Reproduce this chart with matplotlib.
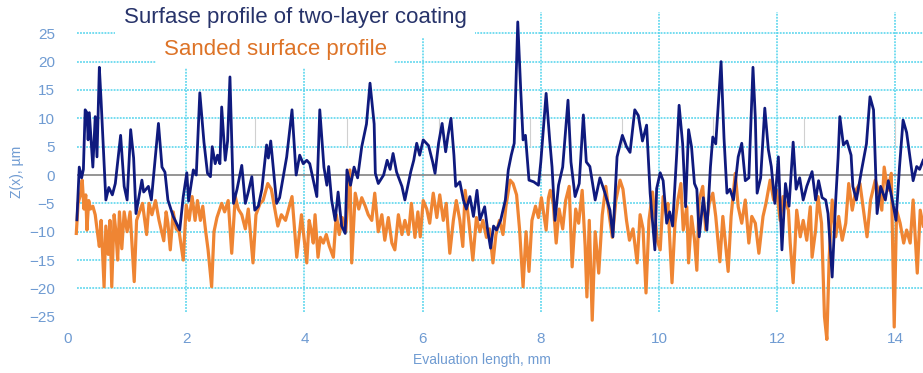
import matplotlib.pyplot as plt

# ===== DATA =====
coat_x = [0.15, 0.19, 0.23, 0.26, 0.29, 0.32, 0.34, 0.36, 0.42, 0.46, 0.49, 0.53, 0.56, 0.64, 0.69,
          0.75, 0.80, 0.89, 0.95, 1.00, 1.06, 1.11, 1.15, 1.25, 1.28, 1.36, 1.41, 1.53, 1.59, 1.64,
          1.69, 1.78, 1.89, 1.95, 2.01, 2.04, 2.12, 2.17, 2.23, 2.30, 2.36, 2.41, 2.44, 2.49, 2.53,
          2.57, 2.60, 2.66, 2.70, 2.74, 2.80, 2.86, 2.94, 3.00, 3.05, 3.11, 3.16, 3.22, 3.28, 3.36,
          3.39, 3.43, 3.53, 3.58, 3.70, 3.79, 3.86, 3.92, 3.98, 4.04, 4.09, 4.21, 4.26, 4.33, 4.38,
          4.41, 4.46, 4.52, 4.57, 4.63, 4.69, 4.72, 4.78, 4.84, 4.90, 4.97, 5.05, 5.11, 5.18, 5.20,
          5.25, 5.34, 5.40, 5.45, 5.50, 5.56, 5.65, 5.70, 5.80, 5.85, 5.90, 5.95, 6.01, 6.10, 6.17,
          6.21, 6.27, 6.33, 6.39, 6.43, 6.48, 6.53, 6.56, 6.63, 6.69, 6.74, 6.80, 6.86, 6.92, 6.97,
          7.05, 7.10, 7.15, 7.20, 7.25, 7.32, 7.40, 7.45, 7.50, 7.55, 7.61, 7.66, 7.70, 7.74, 7.80,
          7.88, 7.96, 8.00, 8.09, 8.15, 8.19, 8.24, 8.30, 8.37, 8.46, 8.51, 8.58, 8.65, 8.72, 8.77,
          8.83, 8.92, 9.00, 9.08, 9.17, 9.22, 9.29, 9.38, 9.45, 9.51, 9.59, 9.65, 9.72, 9.79, 9.85,
          9.93, 9.96, 10.02, 10.07, 10.13, 10.18, 10.23, 10.30, 10.34, 10.40, 10.45, 10.50, 10.55, 10.60, 10.64,
          10.68, 10.75, 10.81, 10.87, 10.91, 10.96, 11.05, 11.10, 11.15, 11.20, 11.26, 11.34, 11.40, 11.46, 11.52,
          11.59, 11.63, 11.66, 11.72, 11.79, 11.85, 11.90, 11.96, 12.02, 12.08, 12.14, 12.20, 12.27, 12.32, 12.38,
          12.44, 12.50, 12.59, 12.65, 12.70, 12.76, 12.82, 12.86, 12.93, 12.99, 13.03, 13.06, 13.12, 13.18, 13.25,
          13.28, 13.34, 13.43, 13.51, 13.57, 13.63, 13.69, 13.75, 13.83, 13.88, 13.94, 14.01, 14.07, 14.13, 14.19,
          14.30, 14.36, 14.41, 14.47]
coat_z = [-7.9, 1.4, -0.5, 1.0, 11.5, 11.0, 6.2, 11.0, 1.4, 10.3, 3.2, 19.0, 13.0, -4.4, -2.2,
          -3.5, -1.5, 7.0, -2.0, -4.4, 8.0, 3.0, -6.8, -0.9, -3.0, -2.0, -4.4, 9.1, 1.4, 0.5,
          -4.4, -7.3, -9.7, -3.8, 0.4, -4.6, 0.9, 0.0, 14.5, 5.8, 0.3, -0.3, 5.0, 2.0, 3.5,
          2.0, 12.0, 2.6, 6.0, 17.3, -5.0, -2.5, 1.7, -5.0, -3.0, -0.3, -6.2, -5.5, -2.5, 5.3,
          3.0, 6.0, -5.0, -4.0, 3.2, 11.5, 0.0, 3.5, 2.0, 2.6, 2.0, -3.8, 11.5, 1.4, -1.8,
          1.5, -4.4, -8.0, -3.0, -9.0, -10.3, 0.9, -1.8, 1.4, -0.5, 5.0, 9.0, 16.2, 9.0, 0.3,
          -1.5, 0.0, 2.6, 1.0, 3.8, 0.5, -2.0, -4.4, 0.6, 2.6, 5.6, 3.5, 6.2, 5.2, 2.3,
          0.3, 5.6, 9.1, 4.1, 7.0, 10.0, 3.5, -2.0, -1.2, -4.4, -6.0, -3.8, -7.3, -2.7, -7.9,
          -5.6, -9.7, -12.9, -9.0, -9.7, -8.0, -4.4, 0.9, 3.5, 5.6, 27.0, 15.0, 6.2, 7.0, -0.9,
          -1.2, -1.8, 2.3, 14.4, 6.2, 1.4, -8.0, -1.8, 1.4, 13.2, 2.3, -3.8, -1.5, 10.6, 2.3,
          1.5, -4.4, -0.5, -3.0, -6.2, -10.9, 3.2, 7.0, 5.0, 4.0, 11.5, 10.5, 6.0, 8.8, -3.2,
          -13.2, -2.4, 0.4, -1.0, -8.5, -6.5, -9.0, 3.8, 12.3, 5.5, -5.6, 8.0, 5.0, -1.5, -2.5,
          -10.9, -4.0, -9.7, 1.4, 6.7, 5.5, 20.0, 6.5, -3.2, -2.5, -4.4, 3.2, 5.6, -1.0, -0.5,
          19.0, 10.0, -3.2, -0.5, 11.8, 4.5, 1.5, -5.0, 3.2, -13.2, -1.5, -5.5, 5.8, -2.5, -0.5,
          -4.4, -2.0, 0.6, -4.4, -1.0, -4.0, -4.4, -6.8, -18.0, -4.4, 3.0, 10.3, 5.3, 6.0, 3.5,
          -2.0, -4.4, 1.0, 5.5, 13.8, 11.5, -6.8, -2.0, -4.4, -1.0, -4.0, -8.0, 1.5, 9.7, 7.5,
          -1.0, 1.5, 1.0, 2.6]

sand_x = [0.14, 0.17, 0.21, 0.24, 0.27, 0.30, 0.32, 0.35, 0.38, 0.42, 0.46, 0.50, 0.53, 0.56, 0.61,
          0.64, 0.68, 0.71, 0.74, 0.78, 0.81, 0.84, 0.87, 0.91, 0.95, 1.00, 1.05, 1.12, 1.16, 1.21,
          1.26, 1.33, 1.37, 1.42, 1.48, 1.54, 1.62, 1.66, 1.69, 1.73, 1.78, 1.83, 1.88, 1.95, 2.00,
          2.05, 2.10, 2.15, 2.19, 2.24, 2.28, 2.33, 2.37, 2.43, 2.47, 2.52, 2.60, 2.65, 2.71, 2.77,
          2.83, 2.88, 2.94, 3.00, 3.05, 3.13, 3.18, 3.25, 3.30, 3.38, 3.44, 3.50, 3.55, 3.61, 3.68,
          3.79, 3.87, 3.95, 4.04, 4.08, 4.12, 4.15, 4.18, 4.23, 4.27, 4.32, 4.37, 4.42, 4.49, 4.54,
          4.59, 4.64, 4.70, 4.77, 4.80, 4.86, 4.92, 4.97, 5.03, 5.08, 5.14, 5.19, 5.25, 5.31, 5.36,
          5.42, 5.48, 5.53, 5.59, 5.65, 5.70, 5.76, 5.81, 5.87, 5.92, 5.96, 6.01, 6.07, 6.12, 6.18,
          6.24, 6.29, 6.35, 6.40, 6.46, 6.52, 6.57, 6.63, 6.68, 6.72, 6.78, 6.85, 6.91, 6.97, 7.02,
          7.08, 7.13, 7.19, 7.24, 7.30, 7.36, 7.41, 7.48, 7.53, 7.59, 7.64, 7.70, 7.75, 7.80, 7.85,
          7.91, 7.96, 8.01, 8.09, 8.13, 8.16, 8.21, 8.26, 8.31, 8.37, 8.42, 8.48, 8.53, 8.59, 8.64,
          8.70, 8.75, 8.78, 8.82, 8.87, 8.92, 8.98, 9.04, 9.10, 9.15, 9.21, 9.27, 9.34, 9.39, 9.45,
          9.50, 9.56, 9.63, 9.68, 9.73, 9.78, 9.83, 9.89, 9.97, 10.02, 10.07, 10.13, 10.15, 10.22, 10.27,
          10.32, 10.37, 10.41, 10.47, 10.50, 10.55, 10.60, 10.64, 10.68, 10.74, 10.79, 10.85, 10.91, 10.96, 11.03,
          11.08, 11.17, 11.22, 11.29, 11.34, 11.40, 11.46, 11.52, 11.57, 11.63, 11.69, 11.76, 11.81, 11.88, 11.94,
          11.99, 12.05, 12.10, 12.19, 12.22, 12.27, 12.33, 12.39, 12.44, 12.50, 12.56, 12.59, 12.65, 12.69, 12.75,
          12.80, 12.84, 12.88, 12.93, 12.99, 13.04, 13.10, 13.16, 13.21, 13.27, 13.33, 13.40, 13.46, 13.52, 13.58,
          13.66, 13.71, 13.77, 13.81, 13.87, 13.93, 13.98, 14.02, 14.08, 14.14, 14.19, 14.25, 14.30, 14.37, 14.42,
          14.47]
sand_z = [-10.3, -5.0, -3.5, -0.9, -6.0, -3.5, -9.7, -4.5, -6.0, -5.5, -7.0, -10.3, -12.6, -8.0, -19.7,
          -9.0, -14.0, -8.0, -19.7, -7.0, -10.0, -15.0, -6.5, -13.0, -6.5, -10.0, -6.5, -18.8, -8.0, -6.5,
          -5.0, -10.5, -5.0, -7.0, -4.5, -8.0, -11.6, -6.5, -8.5, -13.2, -6.5, -9.5, -10.0, -15.0, -5.3,
          -8.0, -3.8, -8.0, -4.5, -8.0, -5.5, -10.0, -13.2, -19.7, -10.0, -7.5, -5.0, -6.5, -4.5, -13.8,
          -3.8, -6.0, -7.0, -9.5, -6.0, -15.5, -7.0, -5.0, -4.5, -1.5, -2.5, -6.0, -9.0, -7.0, -8.0,
          -3.8, -14.5, -7.0, -15.5, -8.0, -10.0, -12.0, -7.0, -14.5, -11.0, -12.0, -10.5, -12.5, -14.5, -7.0,
          -10.5, -7.5, -10.0, 0.9, -15.5, -3.2, -6.0, -4.0, -5.5, -7.0, -8.0, -3.2, -10.0, -7.0, -11.5,
          -7.5, -12.0, -13.2, -7.0, -10.5, -8.0, -10.5, -5.0, -11.0, -6.5, -10.9, -4.5, -6.0, -8.5, -3.2,
          -7.5, -3.5, -8.0, -5.0, -13.8, -8.0, -4.5, -8.0, -12.6, -2.7, -8.0, -15.0, -7.5, -10.0, -8.0,
          -11.0, -9.5, -15.5, -10.5, -8.0, -10.5, -5.5, -0.9, -1.5, -3.5, -9.5, -19.7, -10.0, -17.0, -8.0,
          -5.5, -7.5, -4.0, -9.7, -4.0, -2.7, -5.0, -12.0, -6.0, -9.5, -4.5, -2.0, -16.2, -6.0, -8.5,
          -2.7, -12.5, -21.5, -8.0, -25.6, -10.0, -17.3, -7.0, -2.0, -6.5, -11.0, -4.5, -0.9, -2.5, -8.0,
          -11.5, -9.5, -15.5, -7.0, -9.5, -20.8, -8.0, -3.0, -11.5, -13.2, -3.8, -7.3, -5.0, -19.0, -8.5,
          -4.4, -1.5, -9.7, -5.6, -15.5, -7.3, -11.4, -16.8, -4.4, -2.0, -9.7, -5.0, -3.2, -7.3, -15.3,
          -7.3, -17.0, -7.3, 0.3, -5.6, -8.5, -4.4, -12.0, -7.3, -8.5, -13.8, -7.3, -5.0, -0.9, -4.4,
          -2.7, -8.0, -3.8, -6.2, -12.0, -19.0, -6.2, -10.9, -8.0, -11.5, -5.6, -14.5, -9.7, -3.8, -8.5,
          -25.0, -29.0, -14.5, -4.4, -10.9, -7.3, -11.5, -8.5, -1.5, -6.2, -2.7, -1.5, -6.2, -10.9, -4.4,
          -0.9, -2.7, -6.2, 1.4, -2.7, 0.3, -26.8, -6.2, -8.5, -12.0, -9.7, -12.0, -4.4, -17.3, -6.2,
          -9.0]

y_ticks = [-25, -20, -15, -10, -5, 0, 5, 10, 15, 20, 25]
x_ticks = [0, 2, 4, 6, 8, 10, 12, 14]
marks_x = [3.16, 4.72, 6.27, 7.82, 9.37, 10.91, 12.45, 14.0]

# ===== STYLE =====
plt.rcParams['font.family'] = ['Liberation Sans', 'DejaVu Sans']
navy = '#0f1a7e'
orange = '#ef8533'
grid_c = '#4fd3ec'
label_c = '#6f9bd2'

fig = plt.figure(figsize=(9.23, 3.73), dpi=100)
ax = fig.add_axes([0.0737, 0.1477, 0.9263, 0.8201])
ax.set_xlim(0, 14.467)
ax.set_ylim(-25.2, 28.75)
for s in ax.spines.values():
    s.set_visible(False)

# grid
ax.hlines([v for v in y_ticks if v not in (0, -25)], 0.15, 14.467, colors=grid_c,
          linestyles=(0, (1.2, 0.8)), linewidth=1.1, zorder=1)
ax.vlines(x_ticks[1:], -24.2, 28.75, colors=grid_c, linestyles=(0, (1.2, 0.8)),
          linewidth=1.1, zorder=1)
ax.hlines(0, 0.15, 14.467, colors='#8c8c8c', linewidth=1.3, zorder=1)
ax.vlines(marks_x, 5, 10, colors='#d0d0d0', linewidth=0.8, zorder=1)

# profiles
ax.plot(sand_x, sand_z, color=orange, linewidth=2.3, clip_on=False, zorder=3)
ax.plot(coat_x, coat_z, color=navy, linewidth=2.0, clip_on=False, zorder=4)

# ticks and labels
ax.set_yticks(y_ticks)
ax.set_xticks(x_ticks)
ax.tick_params(axis='both', length=0, labelsize=11, labelcolor=label_c)
ax.tick_params(axis='y', pad=9.5)
ax.tick_params(axis='x', pad=10)
ax.set_ylabel('Z(x), µm', fontsize=10, color=label_c)
ax.yaxis.set_label_coords(-0.052, 0.477)
ax.set_xlabel('Evaluation length, mm', fontsize=10, color=label_c)
ax.xaxis.set_label_coords(0.484, -0.115)

# legend-like titles on white boxes
fig.text(295 / 923, 1 - 18 / 373, 'Surfase profile of two-layer coating', fontsize=16,
         color='#27336a', ha='center', va='center', zorder=2,
         bbox=dict(facecolor='white', edgecolor='none', boxstyle='square,pad=0.4'))
fig.text(275 / 923, 1 - 50 / 373, 'Sanded surface profile', fontsize=16,
         color='#dd7327', ha='center', va='center', zorder=2,
         bbox=dict(facecolor='white', edgecolor='none', boxstyle='square,pad=0.35'))

fig.savefig('out.png', dpi=100)
